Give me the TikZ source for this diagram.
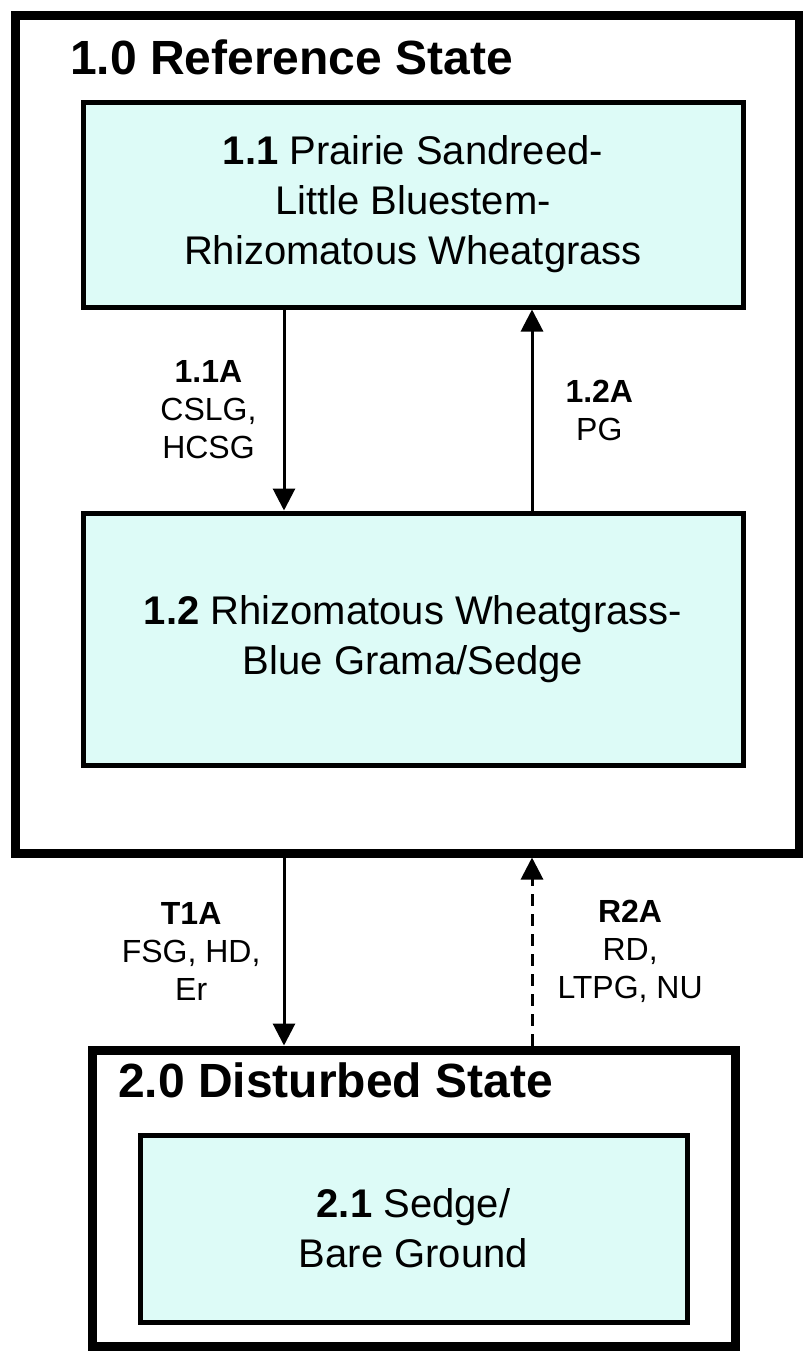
\documentclass[tikz,border=0pt]{standalone}
\usepackage{fontspec}
\setmainfont{Liberation Sans}
\usetikzlibrary{arrows.meta, positioning}
\definecolor{mintfill}{RGB}{221,251,247}
\newcommand{\titlefont}{\fontsize{48}{58}\selectfont\bfseries}
\newcommand{\phasefont}{\fontsize{40}{50}\selectfont}
\newcommand{\lblfont}{\fontsize{32}{38}\selectfont}
\tikzset{
  statebox/.style={rectangle, draw, line width=9pt, inner sep=0pt},
  phasebox/.style={rectangle, draw, line width=5pt, fill=mintfill,
                   align=center, inner sep=0pt, font=\phasefont},
  statetitle/.style={anchor=west, inner sep=0pt, font=\titlefont},
  pathlbl/.style={align=center, inner sep=0pt, font=\lblfont},
  arrow/.style={-{Triangle[length=22pt, width=22pt]}, line width=3pt},
}

\begin{document}
\begin{tikzpicture}[x=1pt, y=-1pt]
  \useasboundingbox (0,0) rectangle (803,1352);
  % states
  \node[statebox, minimum width=784pt, minimum height=838pt] (st1) at (407,434) {};
  \node[statebox, minimum width=643pt, minimum height=296pt] (st2) at (413.5,1198) {};
  \node[statetitle] (t1) at (70,57) {1.0 Reference State};
  \node[statetitle] (t2) at (118,1080) {2.0 Disturbed State};

  % phases
  \node[phasebox, minimum width=660pt, minimum height=205pt] (s11) at (413,204.5)
    {\textbf{1.1} Prairie Sandreed-\\Little Bluestem-\\Rhizomatous Wheatgrass};
  \node[phasebox, minimum width=660pt, minimum height=252pt] (s12) at (413,639)
    {\textbf{1.2} Rhizomatous Wheatgrass-\\Blue Grama/Sedge};
  \node[phasebox, minimum width=547pt, minimum height=187pt] (s21) at (413.5,1228.5)
    {\textbf{2.1} Sedge/\\Bare Ground};

  \coordinate (lcol) at (284,0);
  \coordinate (rcol) at (532,0);

  % pathways
  \draw[arrow] (lcol |- s11.south) -- node[pathlbl, left=26pt] {\textbf{1.1A}\\CSLG,\\HCSG} (lcol |- s12.north);
  \draw[arrow] (rcol |- s12.north) -- node[pathlbl, right=32pt] {\textbf{1.2A}\\PG} (rcol |- s11.south);
  \draw[arrow] (lcol |- st1.south) -- node[pathlbl, left=22pt] {\textbf{T1A}\\FSG, HD,\\Er} (lcol |- st2.north);
  \draw[arrow, dash pattern=on 12pt off 8pt] (rcol |- st2.north) -- node[pathlbl, right=24pt] {\textbf{R2A}\\RD,\\LTPG, NU} (rcol |- st1.south);
\end{tikzpicture}
\end{document}
